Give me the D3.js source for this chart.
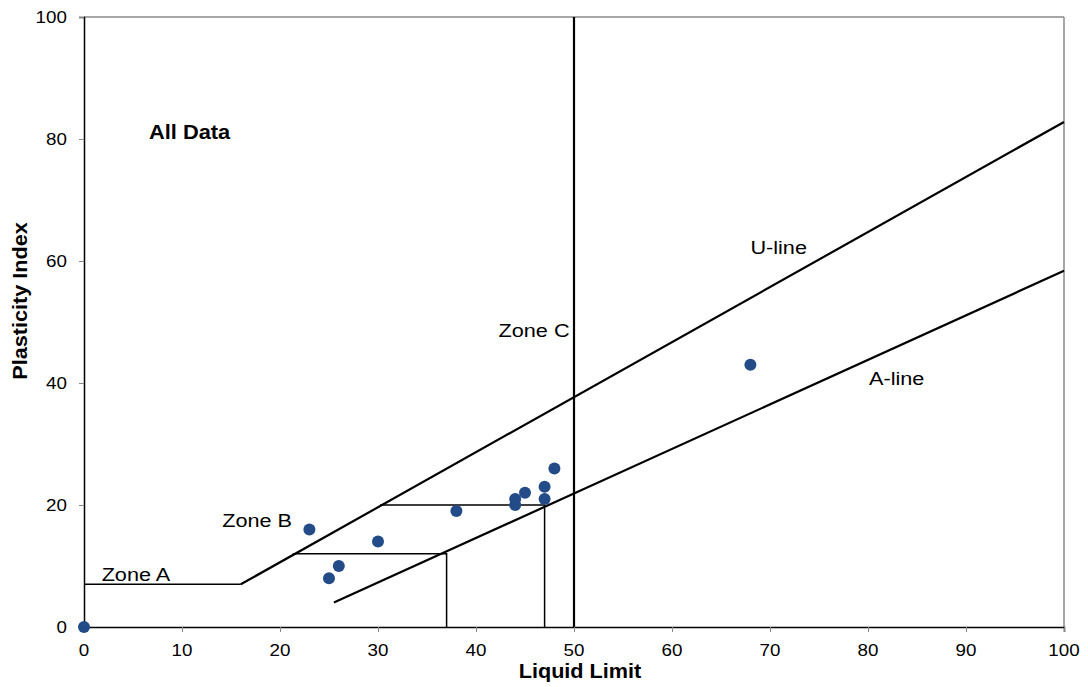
<!DOCTYPE html>
<html>
<head>
<meta charset="utf-8">
<script src="https://cdn.jsdelivr.net/npm/d3@7"></script>
<style>
  html, body { margin: 0; padding: 0; background: #fff; }
  svg { display: block; font-family: "Liberation Sans", Arial, sans-serif; }
</style>
</head>
<body>
<svg id="chart" width="1088" height="687"></svg>
<script>
// ---- Data ----
const liquidLimit    = [0, 23, 25, 26, 30, 38, 44, 44, 45, 47, 47, 48, 68];
const plasticityIdx  = [0, 16, 8, 10, 14, 19, 21, 20, 22, 23, 21, 26, 43];
const xTicks = [0, 10, 20, 30, 40, 50, 60, 70, 80, 90, 100];
const yTicks = [0, 20, 40, 60, 80, 100];
const uLine  = [[16, 7], [100, 82.8]];
const aLine  = [[25.5, 4], [100, 58.4]];
const zoneALine  = [[0, 7], [16, 7]];
const zoneBLine1 = [[21.3, 12], [37, 12], [37, 0]];
const zoneBLine2 = [[30.2, 20], [47, 20], [47, 0]];
const zoneCLine  = [[50, 0], [50, 100]];
const labels = [
  { text: "Zone A", x: 1.8,  y: 7.5 },
  { text: "Zone B", x: 14.1, y: 16.4 },
  { text: "Zone C", x: 42.3, y: 47.5 },
  { text: "U-line", x: 68.0, y: 61.1 },
  { text: "A-line", x: 80.1, y: 39.6 }
];

// ---- Layout ----
const svg = d3.select("#chart");
const x = d3.scaleLinear().domain([0, 100]).range([84, 1064]);
const y = d3.scaleLinear().domain([0, 100]).range([627, 17]);

function txt(g, px, py, s, size, weight, sx, anchor, rot) {
  return g.append("text")
    .attr("transform", `translate(${px},${py})` + (rot ? ` rotate(${rot})` : "") + ` scale(${sx},1)`)
    .attr("font-size", size)
    .attr("font-weight", weight)
    .attr("text-anchor", anchor || "start")
    .attr("fill", "#000")
    .text(s);
}

// frame: top and right gray
svg.append("line").attr("x1", x(0)).attr("x2", x(100)).attr("y1", y(100)).attr("y2", y(100))
  .attr("stroke", "#8a8a8a").attr("stroke-width", 1.5);
svg.append("line").attr("x1", x(100)).attr("x2", x(100)).attr("y1", y(100)).attr("y2", y(0))
  .attr("stroke", "#8a8a8a").attr("stroke-width", 1.5);

// axes
const xAxis = d3.axisBottom(x).tickValues(xTicks).tickSize(5).tickFormat(d3.format("d"));
const gx = svg.append("g").attr("transform", `translate(0,${y(0)})`).call(xAxis);
gx.select(".domain").attr("stroke", "#000").attr("stroke-width", 1.5);
gx.selectAll(".tick line").attr("stroke", "#888");
gx.selectAll(".tick text").remove();
xTicks.forEach(v => txt(gx, x(v), 29, String(v), 16.8, "normal", 1.12, "middle"));

const yAxis = d3.axisLeft(y).tickValues(yTicks).tickSize(5).tickFormat(d3.format("d"));
const gy = svg.append("g").attr("transform", `translate(${x(0)},0)`).call(yAxis);
gy.select(".domain").attr("stroke", "#000").attr("stroke-width", 1.5);
gy.selectAll(".tick line").attr("stroke", "#888");
gy.selectAll(".tick text").remove();
yTicks.forEach(v => txt(gy, -17, y(v) + 6, String(v), 16.8, "normal", 1.12, "end"));

// axis titles
txt(svg, (x(0) + x(100)) / 2 + 6, 678, "Liquid Limit", 19.5, "bold", 1.11, "middle");
txt(svg, 27, 301, "Plasticity Index", 19.5, "bold", 1.11, "middle", -90);

// lines
const line = d3.line().x(d => x(d[0])).y(d => y(d[1]));
function drawLine(data, w) {
  svg.append("path").datum(data).attr("d", line)
    .attr("fill", "none").attr("stroke", "#000").attr("stroke-width", w);
}
drawLine(zoneALine, 1.5);
drawLine(zoneBLine1, 1.5);
drawLine(zoneBLine2, 1.5);
drawLine(uLine, 2.2);
drawLine(aLine, 2.2);
drawLine(zoneCLine, 2.2);

// points
const pts = liquidLimit.map((v, i) => [v, plasticityIdx[i]]);
svg.append("g").selectAll("circle").data(pts).join("circle")
  .attr("cx", d => x(d[0])).attr("cy", d => y(d[1])).attr("r", 6)
  .attr("fill", "#234b87");

// annotations
labels.forEach(l => txt(svg, x(l.x), y(l.y), l.text, 19, "normal", 1.14, "start"));
txt(svg, 149, 139, "All Data", 19.5, "bold", 1.12, "start");
</script>
</body>
</html>
